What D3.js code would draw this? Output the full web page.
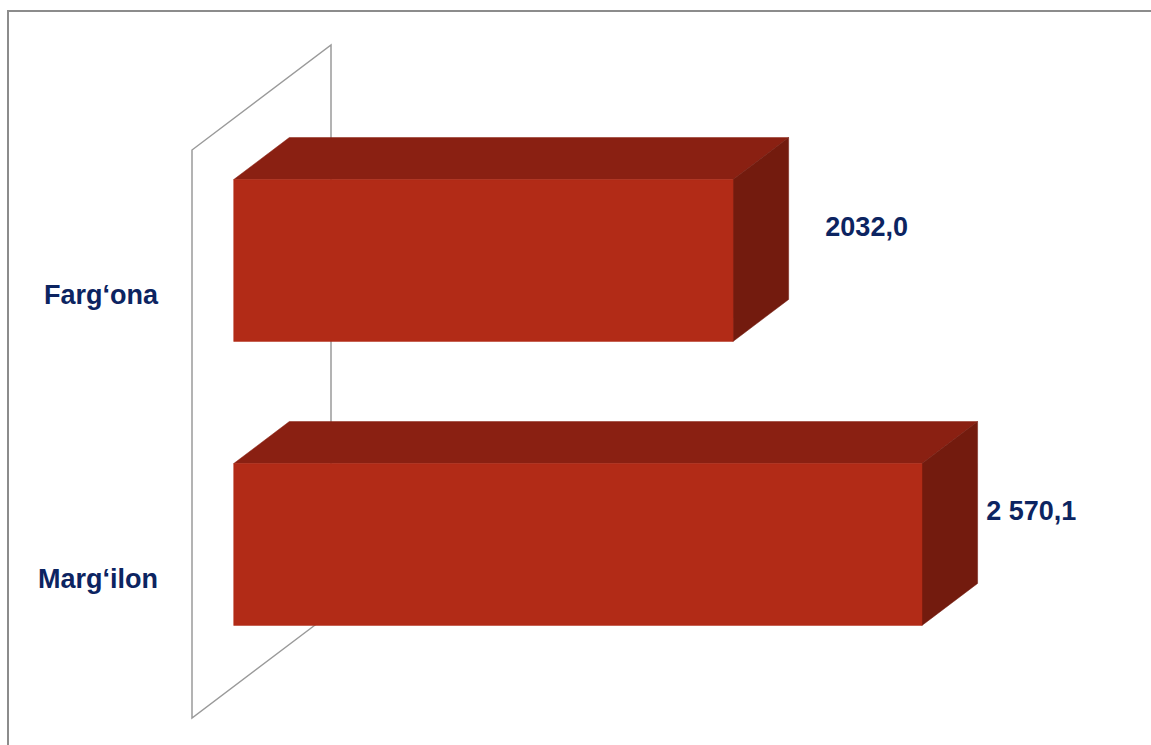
<!DOCTYPE html>
<html><head><meta charset="utf-8">
<script src="https://cdn.jsdelivr.net/npm/d3@7"></script>
<style>html,body{margin:0;padding:0;background:#fff;}svg{display:block;}</style>
</head><body>
<svg id="chart" width="1151" height="745"></svg>
<script>
const categories = ["Farg\u2018ona", "Marg\u2018ilon"];
const values = [2032.0, 2570.1];
const valueLabels = ["2032,0", "2 570,1"];
const labelShiftX = [134, 106];

const svg = d3.select("#chart");
const W = 1151, H = 745;

// 3D oblique projection: depth unit offset
const depthDX = 139, depthDY = -105;
const barD0 = 0.3, barD1 = 0.7;

const x = d3.scaleLinear().domain([610, 3000]).range([192, 192 + 0.35115 * 2390]);
const y = d3.scaleBand().domain(categories).range([150, 718]).paddingInner(0.43).paddingOuter(0.215);

const P = (vx, vy, d) => [vx + d * depthDX, vy + d * depthDY];

// outer border
svg.append("rect").attr("x", 8).attr("y", 11).attr("width", W + 20).attr("height", H + 20)
  .attr("fill", "none").attr("stroke", "#8c8c8c").attr("stroke-width", 2);

// back wall (vertical plane at axis min)
const x0 = x.range()[0], yTop = y.range()[0], yBot = y.range()[1];
const wall = [P(x0, yBot, 0), P(x0, yTop, 0), P(x0, yTop, 1), P(x0, yBot, 1)];
svg.append("polygon").attr("points", wall.map(p => p.join(",")).join(" "))
  .attr("fill", "none").attr("stroke", "#9a9a9a").attr("stroke-width", 1.5);

const g = svg.append("g");
categories.forEach((c, i) => {
  const xa = x0, xb = x(values[i]);
  const ya = y(c), yb = y(c) + y.bandwidth();
  const top = [P(xa, ya, barD0), P(xb, ya, barD0), P(xb, ya, barD1), P(xa, ya, barD1)];
  const side = [P(xb, ya, barD0), P(xb, ya, barD1), P(xb, yb, barD1), P(xb, yb, barD0)];
  const front = [P(xa, ya, barD0), P(xb, ya, barD0), P(xb, yb, barD0), P(xa, yb, barD0)];
  const poly = (pts, fill) => g.append("polygon").attr("points", pts.map(p => p.join(",")).join(" "))
    .attr("fill", fill).attr("stroke", fill).attr("stroke-width", 0.5);
  poly(top, "#8a2012");
  poly(side, "#731b0e");
  poly(front, "#b22b17");

  // category label
  svg.append("text").attr("x", 158).attr("y", y(c) + y.bandwidth() / 2 + 3)
    .attr("text-anchor", "end").attr("dominant-baseline", "central")
    .attr("font-family", "Liberation Sans, Arial, sans-serif").attr("font-weight", "bold")
    .attr("font-size", 27).attr("fill", "#0c2461").text(c);

  // value label
  svg.append("text").attr("x", xb + labelShiftX[i]).attr("y", y(c) + y.bandwidth() / 2 - 65)
    .attr("dominant-baseline", "central")
    .attr("font-family", "Liberation Sans, Arial, sans-serif").attr("font-weight", "bold")
    .attr("font-size", 27).attr("fill", "#0c2461").text(valueLabels[i]);
});
</script>
</body></html>
